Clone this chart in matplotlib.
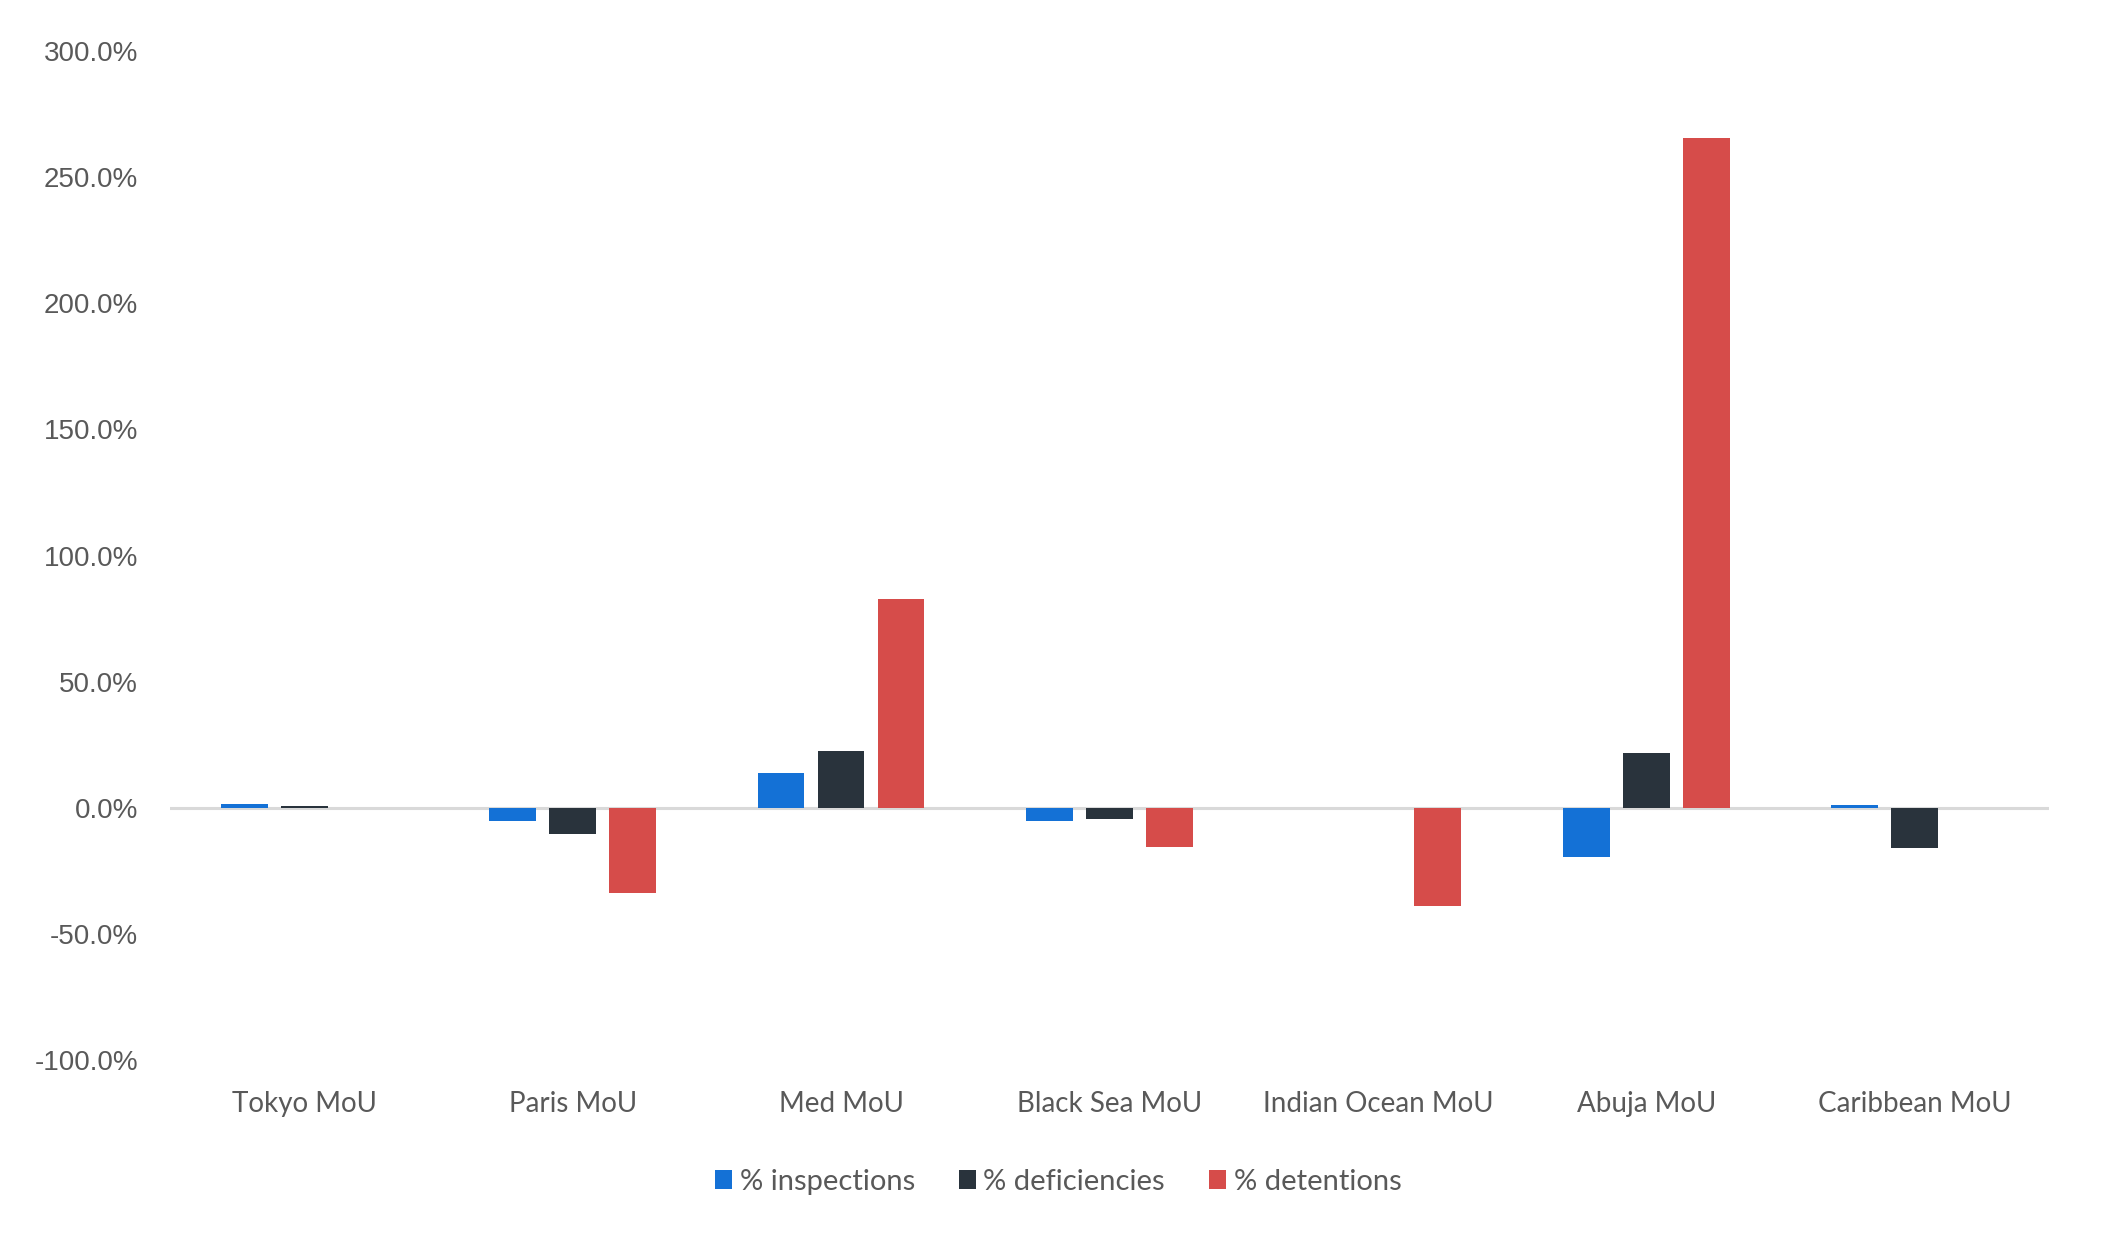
import matplotlib
matplotlib.use("Agg")
import matplotlib.pyplot as plt
import numpy as np
from matplotlib.ticker import FuncFormatter, MultipleLocator

categories = ["Tokyo MoU", "Paris MoU", "Med MoU", "Black Sea MoU",
              "Indian Ocean MoU", "Abuja MoU", "Caribbean MoU"]
inspections = [1.3, -5.2, 13.9, -5.3, 0.0, -19.4, 0.9]
deficiencies = [0.5, -10.3, 22.6, -4.6, 0.0, 21.8, -15.8]
detentions = [0.0, -34.0, 82.8, -15.7, -39.1, 265.6, 0.0]
series_names = ["% inspections", "% deficiencies", "% detentions"]
colors = ["#1471D6", "#29333C", "#D64C4A"]

fig = plt.figure(figsize=(21.08, 12.51), dpi=100)
ax = fig.add_axes([0.0806, 0.1527, 0.8914, 0.8065])

x = np.arange(len(categories))
width = 0.175
step = 0.2235
handles = []
for i, (vals, name, c) in enumerate(zip([inspections, deficiencies, detentions], series_names, colors)):
    h = ax.bar(x + (i - 1) * step, vals, width, color=c, label=name, zorder=3,
               edgecolor=c, linewidth=0)
    handles.append(h)

ax.axhline(0, color="#D9D9D9", linewidth=2.2, zorder=2)
ax.set_xlim(-0.5, len(categories) - 0.5)
ax.set_ylim(-100, 300)
ax.yaxis.set_major_locator(MultipleLocator(50))
ax.yaxis.set_major_formatter(FuncFormatter(lambda v, p: f"{v:.1f}%"))
ax.set_xticks(x)
ax.set_xticklabels(categories, fontsize=20, color="#595959", family="Lato")
for lbl in ax.get_yticklabels():
    lbl.set_fontsize(20)
    lbl.set_color("#595959")
    lbl.set_family("Liberation Sans")
ax.tick_params(axis="both", length=0)
ax.tick_params(axis="y", pad=23)
ax.tick_params(axis="x", pad=22)
for s in ax.spines.values():
    s.set_visible(False)

leg = fig.legend(handles=handles, labels=series_names, loc="center",
                 bbox_to_anchor=(1058 / 2108, 1 - 1182 / 1251), ncol=3,
                 frameon=False, handlelength=0.6, handleheight=0.6,
                 handletextpad=0.25, columnspacing=1.5,
                 prop={"family": "Lato", "size": 21})
for t in leg.get_texts():
    t.set_color("#595959")

fig.savefig("out.png", dpi=100, facecolor="white")
